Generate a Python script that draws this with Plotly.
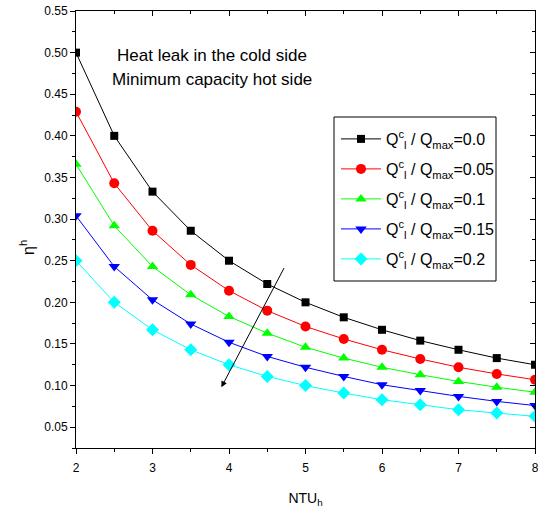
import plotly.graph_objects as go

ntu = [2.0, 2.5, 3.0, 3.5, 4.0, 4.5, 5.0, 5.5, 6.0, 6.5, 7.0, 7.5, 8.0]
eta_00 = [0.500, 0.400, 0.333, 0.286, 0.250, 0.222, 0.200, 0.182, 0.167, 0.154, 0.143, 0.133, 0.125]
eta_05 = [0.429, 0.343, 0.286, 0.245, 0.214, 0.190, 0.171, 0.156, 0.143, 0.132, 0.122, 0.114, 0.107]
eta_10 = [0.366, 0.292, 0.243, 0.209, 0.183, 0.163, 0.146, 0.133, 0.122, 0.113, 0.105, 0.098, 0.092]
eta_15 = [0.304, 0.243, 0.203, 0.174, 0.152, 0.135, 0.122, 0.111, 0.101, 0.094, 0.087, 0.081, 0.076]
eta_20 = [0.250, 0.200, 0.167, 0.143, 0.125, 0.111, 0.100, 0.091, 0.083, 0.077, 0.071, 0.067, 0.063]
ratios = ["0.0", "0.05", "0.1", "0.15", "0.2"]
series = [eta_00, eta_05, eta_10, eta_15, eta_20]
colors = ["#000000", "#FF0000", "#00FF00", "#0000FF", "#00FFFF"]
symbols = ["square", "circle", "triangle-up", "triangle-down", "diamond"]
sizes = [8, 10, 10, 10, 10]

FONT = "Liberation Sans, Arial, sans-serif"

# plot area in pixels (for positioning layout elements)
W, H = 538, 516
ML, MR, MT, MB = 76, 3, 11, 68
PW, PH = W - ML - MR, H - MT - MB

def px_x(x):
    return (x - ML) / PW

def px_y(y):
    return (H - MB - y) / PH

legend_names = ["legend", "legend2", "legend3", "legend4", "legend5"]
legend_rows_px = [139, 169, 199, 229, 259]

fig = go.Figure()
for r, ys, c, s, sz, lg in zip(ratios, series, colors, symbols, sizes, legend_names):
    fig.add_trace(go.Scatter(
        x=ntu, y=ys, mode="lines+markers",
        name="Q<sup>c</sup><sub>l</sub> / Q<sub>max</sub>=" + r,
        line=dict(color=c, width=1),
        marker=dict(symbol=s, size=sz, color=c),
        legend=lg,
    ))

# invisible trace to carry the mirrored (top/right) axes
fig.add_trace(go.Scatter(x=ntu, y=eta_00, xaxis="x2", yaxis="y2",
                         mode="markers", marker=dict(opacity=0),
                         showlegend=False, hoverinfo="skip"))

axis_common = dict(showgrid=False, zeroline=False, showline=True, automargin=False,
                   linecolor="black", linewidth=1, tickcolor="black",
                   tickfont=dict(family=FONT, size=12, color="black"))

layout_legends = {}
for lg, rp in zip(legend_names, legend_rows_px):
    layout_legends[lg] = dict(x=px_x(336), y=px_y(rp), xanchor="left", yanchor="middle",
                              bgcolor="rgba(0,0,0,0)", borderwidth=0,
                              font=dict(family=FONT, size=16, color="black"),
                              itemwidth=40)

fig.update_layout(
    width=W, height=H,
    margin=dict(l=ML, r=MR, t=MT, b=MB, autoexpand=False),
    paper_bgcolor="white", plot_bgcolor="white",
    font=dict(family=FONT, color="black"),
    xaxis=dict(range=[2, 8], dtick=1, ticks="outside", ticklen=5,
               ticklabeloverflow="allow", ticklabelstandoff=4,
               minor=dict(ticks="outside", dtick=0.5, ticklen=3, tickcolor="black"),
               title=dict(text="NTU<sub>h</sub>", font=dict(family=FONT, size=14), standoff=18),
               **axis_common),
    yaxis=dict(range=[0.025, 0.55], dtick=0.05, tickformat=".2f", ticks="outside", ticklen=5,
               minor=dict(ticks="outside", dtick=0.025, ticklen=3, tickcolor="black"),
               **axis_common),
    xaxis2=dict(range=[2, 8], dtick=1, ticks="inside", ticklen=5, overlaying="x", side="top",
                showticklabels=False,
                minor=dict(ticks="inside", dtick=0.5, ticklen=3, tickcolor="black"),
                **axis_common),
    yaxis2=dict(range=[0.025, 0.55], dtick=0.05, ticks="inside", ticklen=5, overlaying="y", side="right",
                showticklabels=False,
                minor=dict(ticks="inside", dtick=0.025, ticklen=3, tickcolor="black"),
                **axis_common),
    showlegend=True,
    **layout_legends,
)

# legend frame
fig.add_shape(type="rect", xref="paper", yref="paper",
              x0=px_x(334), x1=px_x(496), y0=px_y(281), y1=px_y(117),
              line=dict(color="black", width=1), fillcolor="white", layer="above")

# y-axis title
fig.add_annotation(x=px_x(15), y=px_y(247), xref="paper", yref="paper",
                   text="η<sup>h</sup>", textangle=-90, showarrow=False,
                   font=dict(family=FONT, size=16, color="black"))

# arrow
fig.add_annotation(x=3.9, y=0.098, ax=4.73, ay=0.243, xref="x", yref="y",
                   axref="x", ayref="y", text="", showarrow=True,
                   arrowhead=2, arrowsize=1.2, arrowwidth=1, arrowcolor="black")

fig.add_annotation(x=3.78, y=0.497, xref="x", yref="y", text="Heat leak in the cold side",
                   showarrow=False, font=dict(family=FONT, size=17, color="black"))
fig.add_annotation(x=3.78, y=0.468, xref="x", yref="y", text="Minimum capacity hot side",
                   showarrow=False, font=dict(family=FONT, size=17, color="black"))

fig.write_html("out.html")
